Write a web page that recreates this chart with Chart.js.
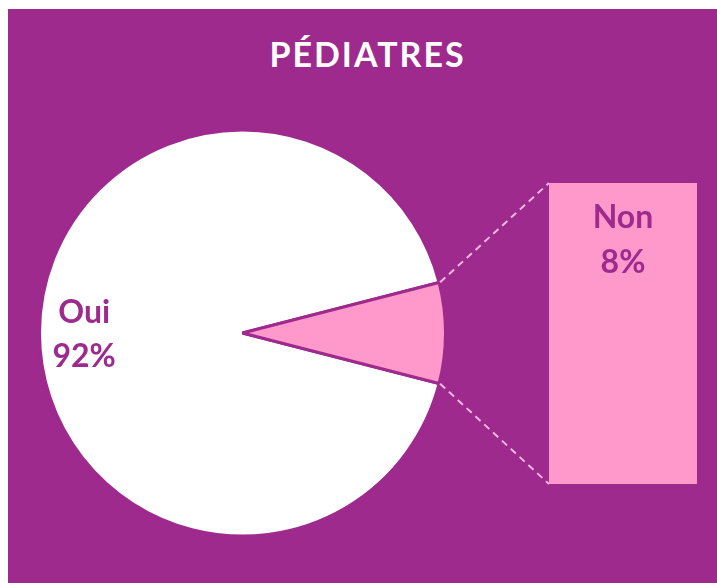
<!DOCTYPE html>
<html lang="fr">

<head>
    <meta charset="UTF-8">
    <script src="https://cdn.jsdelivr.net/npm/chart.js"></script>
    <title>PÉDIATRES</title>
    <style>
        body { margin: 0; background: #fff; }
        #wrap { position: relative; width: 717px; height: 583px; overflow: hidden; }
        #bg { position: absolute; left: 8px; top: 9px; right: 0; bottom: 0; background: #9e2a8e; }
        #title { position: absolute; left: 8px; right: 0; top: 33px; text-align: center; margin: 0;
                 font: bold 34px Lato, "Open Sans", sans-serif; letter-spacing: 2px; color: #fff; padding-left: 10px; }
        canvas { position: absolute; left: 0; top: 0; }
    </style>
</head>

<body>
    <div id="wrap">
        <div id="bg"></div>
        <h1 id="title">PÉDIATRES</h1>
        <canvas id="pie" width="717" height="583"></canvas>
        <canvas id="bar" width="717" height="583"></canvas>
    </div>

<script>
    // data
    const labels = ['Oui', 'Non'];
    const values = [92, 8];
    const pctLabels = ['92%', '8%'];

    const purple = '#9e2a8e';
    const pink = '#ff99cc';

    // Oui label inside the white slice
    const pieLabels = {
        id: 'pieLabels',
        afterDraw(chart) {
            let ctx = chart.ctx;
            let arc = chart.getDatasetMeta(0).data[0];
            let mid = (arc.startAngle + arc.endAngle) / 2;
            let r = arc.outerRadius * 0.78;
            let x = arc.x + Math.cos(mid) * r;
            let y = arc.y + Math.sin(mid) * r;
            ctx.save();
            ctx.fillStyle = purple;
            ctx.font = 'bold 32px Lato, "Open Sans", sans-serif';
            ctx.textAlign = 'center';
            ctx.textBaseline = 'middle';
            ctx.fillText(labels[0], x, y - 20);
            ctx.fillText(pctLabels[0], x, y + 24);
            ctx.restore();
        }
    };

    let pieChart = new Chart(document.getElementById('pie').getContext('2d'), {
        type: 'pie',
        data: {
            labels: labels,
            datasets: [{
                data: values,
                backgroundColor: ['#ffffff', pink],
                borderColor: purple,
                borderWidth: 3
            }]
        },
        options: {
            responsive: false,
            animation: false,
            rotation: 104.4,
            layout: { padding: { left: 38, right: 270, top: 128, bottom: 45 } },
            plugins: { legend: { display: false }, tooltip: { enabled: false } }
        },
        plugins: [pieLabels]
    });

    // bar of pie + dashed connectors
    const barExtras = {
        id: 'barExtras',
        afterDraw(chart) {
            let ctx = chart.ctx;
            let bar = chart.getDatasetMeta(0).data[0];
            let left = bar.x - bar.width / 2;
            let top = bar.y, bottom = bar.base;
            let arc = pieChart.getDatasetMeta(0).data[1];
            let R = arc.outerRadius + 1;
            ctx.save();
            ctx.strokeStyle = '#f2b8de';
            ctx.lineWidth = 2;
            ctx.setLineDash([7, 5]);
            ctx.beginPath();
            ctx.moveTo(arc.x + Math.cos(arc.startAngle) * R, arc.y + Math.sin(arc.startAngle) * R);
            ctx.lineTo(left, top);
            ctx.moveTo(arc.x + Math.cos(arc.endAngle) * R, arc.y + Math.sin(arc.endAngle) * R);
            ctx.lineTo(left, bottom);
            ctx.stroke();
            ctx.setLineDash([]);
            ctx.fillStyle = purple;
            ctx.font = 'bold 32px Lato, "Open Sans", sans-serif';
            ctx.textAlign = 'center';
            ctx.textBaseline = 'middle';
            ctx.fillText(labels[1], bar.x, top + 35);
            ctx.fillText(pctLabels[1], bar.x, top + 80);
            ctx.restore();
        }
    };

    let barChart = new Chart(document.getElementById('bar').getContext('2d'), {
        type: 'bar',
        data: {
            labels: [labels[1]],
            datasets: [{
                data: [values[1]],
                backgroundColor: pink,
                barPercentage: 1,
                categoryPercentage: 1
            }]
        },
        options: {
            responsive: false,
            animation: false,
            layout: { padding: { left: 549, right: 20, top: 183, bottom: 99 } },
            scales: {
                x: { display: false },
                y: { display: false, min: 0, max: values[1] }
            },
            plugins: { legend: { display: false }, tooltip: { enabled: false } }
        },
        plugins: [barExtras]
    });
</script>
</body>

</html>
